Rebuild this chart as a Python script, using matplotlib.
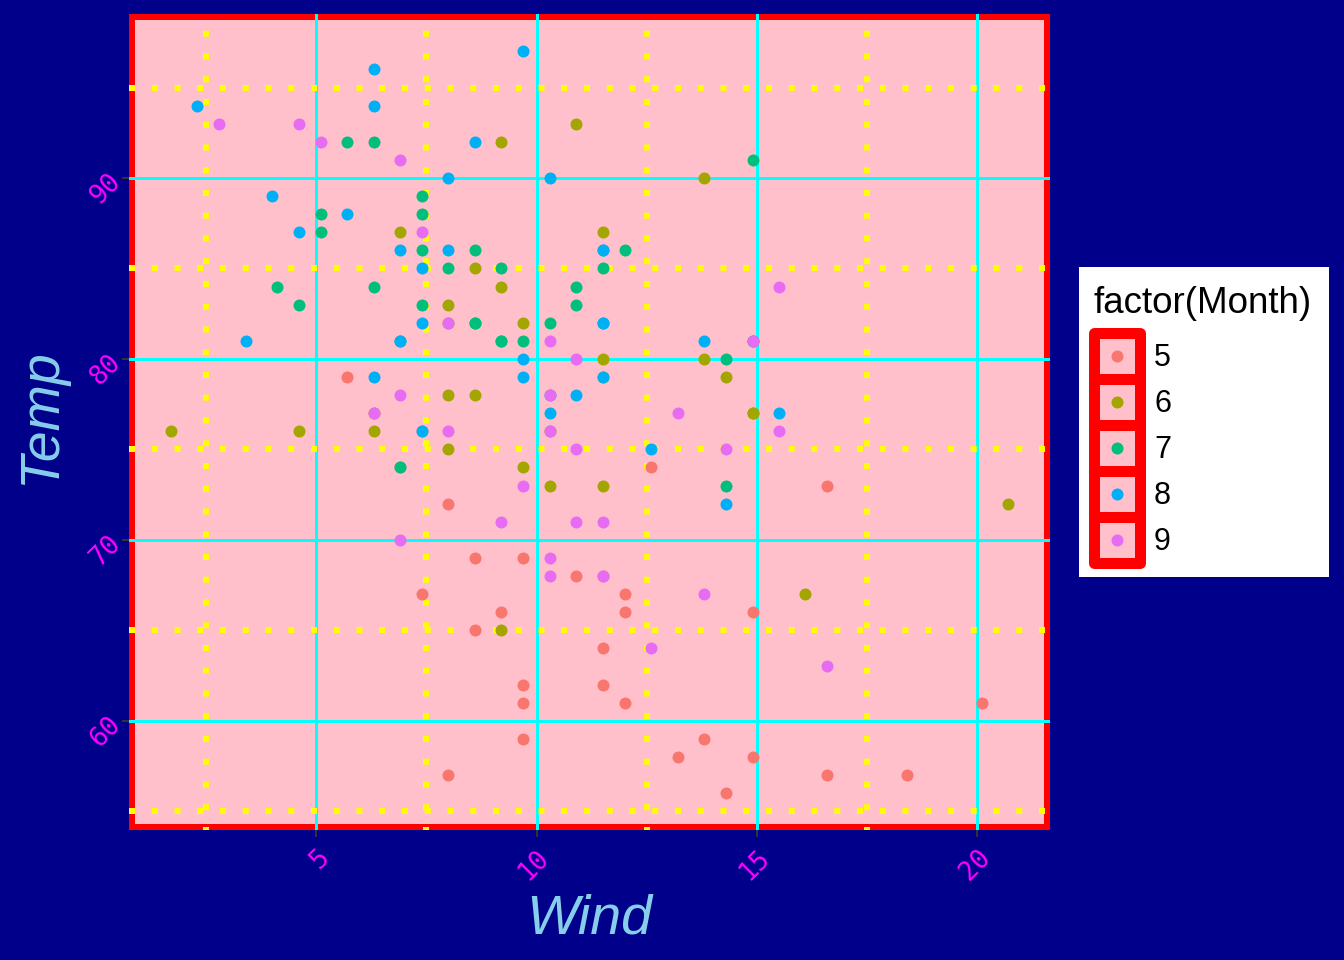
import matplotlib
matplotlib.use("Agg")
import matplotlib.pyplot as plt
from matplotlib.patches import Rectangle
from matplotlib.ticker import FixedLocator

# airquality: Wind (mph) vs Temp (F), grouped by month
months = ["5", "6", "7", "8", "9"]
month_colors = ["#F8766D", "#A3A500", "#00BF7D", "#00B0F6", "#E76BF3"]

wind_may = [7.4, 8.0, 12.6, 11.5, 14.3, 14.9, 8.6, 13.8, 20.1, 8.6, 6.9, 9.7, 9.2, 10.9, 13.2, 11.5,
            12.0, 18.4, 11.5, 9.7, 9.7, 16.6, 9.7, 12.0, 16.6, 14.9, 8.0, 12.0, 14.9, 5.7, 7.4]
temp_may = [67, 72, 74, 62, 56, 66, 65, 59, 61, 69, 74, 69, 66, 68, 58, 64,
            66, 57, 68, 62, 59, 73, 61, 61, 57, 58, 57, 67, 81, 79, 76]

wind_jun = [8.6, 9.7, 16.1, 9.2, 8.6, 14.3, 9.7, 6.9, 13.8, 11.5, 10.9, 9.2, 8.0, 13.8, 11.5,
            14.9, 20.7, 9.2, 11.5, 10.3, 6.3, 1.7, 4.6, 6.3, 8.0, 8.0, 10.3, 11.5, 14.9, 8.0]
temp_jun = [78, 74, 67, 84, 85, 79, 82, 87, 90, 87, 93, 92, 82, 80, 79,
            77, 72, 65, 73, 76, 77, 76, 76, 76, 75, 78, 73, 80, 77, 83]

wind_jul = [4.1, 9.2, 9.2, 10.9, 4.6, 10.9, 5.1, 6.3, 5.7, 7.4, 8.6, 14.3, 14.9, 14.9, 14.3, 6.9,
            10.3, 6.3, 5.1, 11.5, 6.9, 9.7, 11.5, 8.6, 8.0, 8.6, 12.0, 7.4, 7.4, 7.4, 9.2]
temp_jul = [84, 85, 81, 84, 83, 83, 88, 92, 92, 89, 82, 73, 81, 91, 80, 81,
            82, 84, 87, 85, 74, 81, 82, 86, 85, 82, 86, 88, 86, 83, 81]

wind_aug = [6.9, 13.8, 7.4, 6.9, 7.4, 4.6, 4.0, 10.3, 8.0, 8.6, 11.5, 11.5, 11.5, 9.7, 11.5, 10.3,
            6.3, 7.4, 10.9, 10.3, 15.5, 14.3, 12.6, 9.7, 3.4, 8.0, 5.7, 9.7, 2.3, 6.3, 6.3]
temp_aug = [81, 81, 82, 86, 85, 87, 89, 90, 90, 92, 86, 86, 82, 80, 79, 77,
            79, 76, 78, 78, 77, 72, 75, 79, 81, 86, 88, 97, 94, 96, 94]

wind_sep = [6.9, 5.1, 2.8, 4.6, 7.4, 15.5, 10.9, 10.3, 10.9, 9.7, 14.9, 15.5, 6.3, 10.9, 11.5,
            6.9, 13.8, 10.3, 10.3, 8.0, 12.6, 9.2, 10.3, 10.3, 16.6, 6.9, 13.2, 14.3, 8.0, 11.5]
temp_sep = [91, 92, 93, 93, 87, 84, 80, 78, 75, 73, 81, 76, 77, 71, 71,
            78, 67, 76, 68, 82, 64, 71, 81, 69, 63, 70, 77, 75, 76, 68]

x_major = [5, 10, 15, 20]
x_minor = [2.5, 7.5, 12.5, 17.5]
y_major = [60, 70, 80, 90]
y_minor = [55, 65, 75, 85, 95]

winds = [wind_may, wind_jun, wind_jul, wind_aug, wind_sep]
temps = [temp_may, temp_jun, temp_jul, temp_aug, temp_sep]

NAVY = "#00008B"
PINK = "#FFC0CB"
px = 0.72  # points per pixel at dpi 100

fig = plt.figure(figsize=(13.44, 9.6), dpi=100, facecolor=NAVY)
ax = fig.add_axes([129 / 1344, 1 - 830.2 / 960, (1050 - 129) / 1344, (830.2 - 14.3) / 960])
ax.set_facecolor(PINK)

# ggplot-style expanded limits (5% on each side)
all_w = [w for ws in winds for w in ws]
all_t = [t for ts in temps for t in ts]
wr = max(all_w) - min(all_w)
tr = max(all_t) - min(all_t)
ax.set_xlim(min(all_w) - 0.05 * wr, max(all_w) + 0.05 * wr)
ax.set_ylim(min(all_t) - 0.05 * tr, max(all_t) + 0.05 * tr)

ax.xaxis.set_major_locator(FixedLocator(x_major))
ax.xaxis.set_minor_locator(FixedLocator(x_minor))
ax.yaxis.set_major_locator(FixedLocator(y_major))
ax.yaxis.set_minor_locator(FixedLocator(y_minor))

# grid: yellow dotted minor, cyan solid major
dot_lw = 6 * px
period = 22.75 / 6
ax.xaxis.grid(True, which="minor", color="yellow", linewidth=dot_lw,
              linestyle=(0.5, (1, period - 1)), dash_capstyle="butt")
ax.yaxis.grid(True, which="minor", color="yellow", linewidth=dot_lw,
              linestyle=(0, (1, period - 1)), dash_capstyle="butt")
ax.grid(True, which="major", color="cyan", linewidth=3 * px, linestyle="-")
ax.set_axisbelow("line")

# red panel border, kept inside the panel
for s in ax.spines.values():
    s.set_color("red")
    s.set_linewidth(12 * px)
    s.set_clip_path(ax.patch)
    s.set_zorder(1)

ax.tick_params(which="minor", length=0)
ax.tick_params(which="major", length=7 * px, width=2 * px, color="#333333")
ax.set_xticks(x_major)
ax.set_xticklabels([str(v) for v in x_major])
ax.set_yticks(y_major)
ax.set_yticklabels([str(v) for v in y_major])
for lab in ax.get_xticklabels():
    lab.set_rotation(45)
    lab.set_ha("right")
    lab.set_va("top")
    lab.set_rotation_mode("anchor")
for lab in ax.get_yticklabels():
    lab.set_rotation(45)
    lab.set_ha("right")
    lab.set_va("center")
    lab.set_rotation_mode("anchor")
ax.tick_params(axis="x", which="major", pad=5, labelsize=19, labelcolor="magenta")
ax.tick_params(axis="y", which="major", pad=4, labelsize=19, labelcolor="magenta")
for lab in ax.get_xticklabels() + ax.get_yticklabels():
    lab.set_fontfamily("DejaVu Sans Mono")

for ws, ts, c in zip(winds, temps, month_colors):
    ax.scatter(ws, ts, s=(12 * px) ** 2, color=c, linewidths=0, zorder=3)

# axis titles
fig.text(589.5 / 1344, 1 - 933 / 960, "Wind", ha="center", va="baseline",
         fontsize=40, style="italic", color="skyblue", family="Liberation Sans")
fig.text(55 / 1344, 1 - 417 / 960, "Temp", ha="center", va="baseline", rotation=90,
         rotation_mode="anchor", fontsize=40, style="italic", color="skyblue",
         family="Liberation Sans")

# legend drawn in pixel coordinates (y downward)
lax = fig.add_axes([0, 0, 1, 1])
lax.set_xlim(0, 1344)
lax.set_ylim(960, 0)
lax.axis("off")
lax.patch.set_alpha(0)
lax.add_patch(Rectangle((1079, 267), 250, 310, facecolor="white", edgecolor="none"))
lax.text(1094, 313, "factor(Month)", fontsize=26.5, family="Liberation Sans",
         color="black", ha="left", va="baseline")
key_size = 46
for i, (m, c) in enumerate(zip(months, month_colors)):
    cy = 355.5 + i * key_size
    lax.add_patch(Rectangle((1116.5 - key_size / 2, cy - key_size / 2), key_size, key_size,
                            facecolor=PINK, edgecolor="red", linewidth=11 * px,
                            joinstyle="round"))
for i, (m, c) in enumerate(zip(months, month_colors)):
    cy = 355.5 + i * key_size
    lax.scatter([1116.5], [cy], s=(12 * px) ** 2, color=c, linewidths=0, zorder=5)
    lax.text(1154, cy + 11, m, fontsize=22, family="Liberation Sans", color="black",
             ha="left", va="baseline")

fig.savefig("out.png", dpi=100, facecolor=NAVY)
